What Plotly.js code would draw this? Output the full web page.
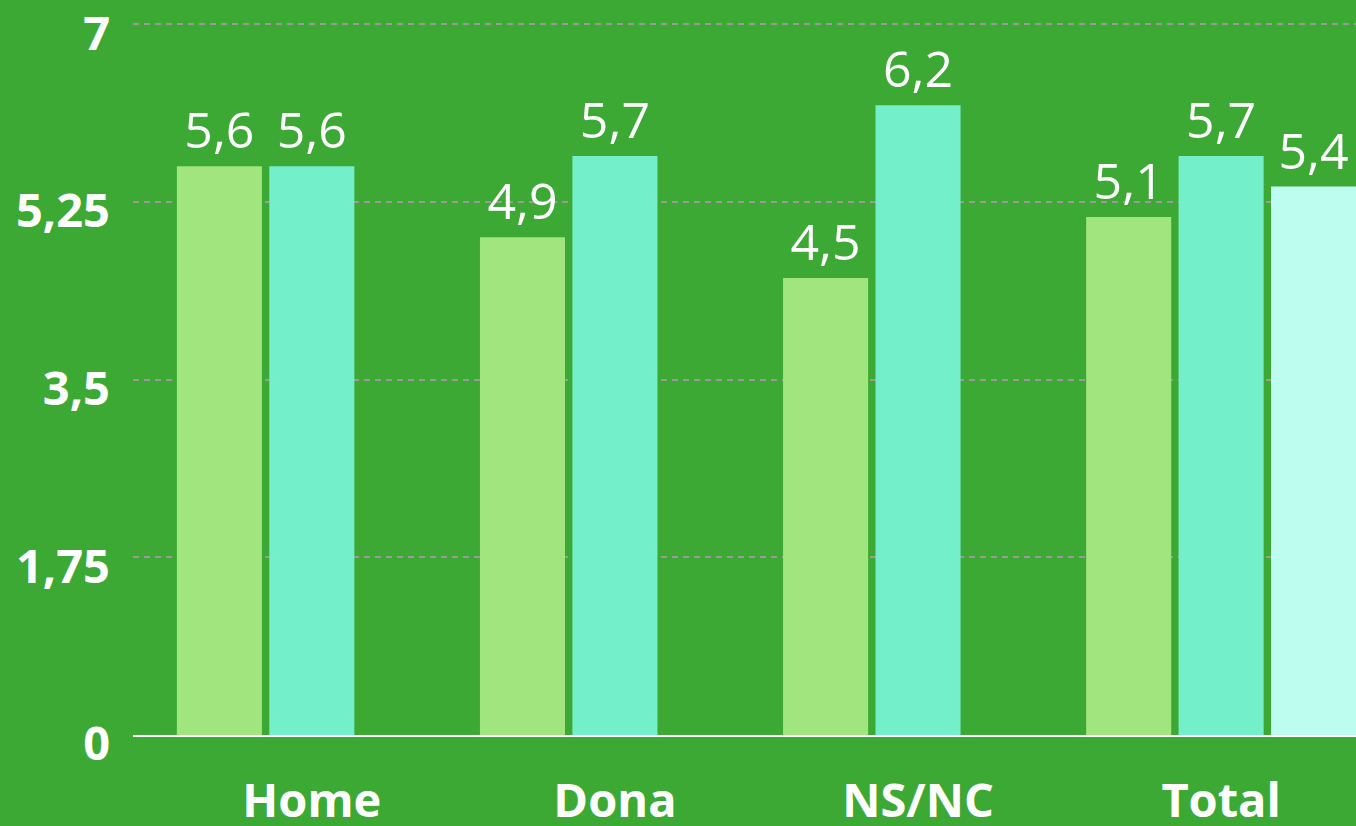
<!DOCTYPE html>
<html>
<head>
<meta charset="utf-8">
<script src="https://cdn.plot.ly/plotly-3.0.1.min.js"></script>
<style>html,body{margin:0;padding:0;background:#3DA935;}#chart{width:1356px;height:826px;}</style>
</head>
<body>
<div id="chart"></div>
<script>
const categories = ['Home', 'Dona', 'NS/NC', 'Total'];
const series1 = [5.6, 4.9, 4.5, 5.1];
const series2 = [5.6, 5.7, 6.2, 5.7];
const series3Categories = ['Total'];
const series3 = [5.4];
const yTicks = [0, 1.75, 3.5, 5.25, 7];

const textFont = {family: 'Open Sans, sans-serif', size: 50, color: '#ffffff', weight: 400};

const traces = [
  {type: 'bar', x: categories, y: series1, marker: {color: '#A1E57F'},
   texttemplate: '%{y:.1f}', textposition: 'outside', textfont: textFont, cliponaxis: false, hoverinfo: 'none'},
  {type: 'bar', x: categories, y: series2, marker: {color: '#73F0CA'},
   texttemplate: '%{y:.1f}', textposition: 'outside', textfont: textFont, cliponaxis: false, hoverinfo: 'none'},
  {type: 'bar', x: series3Categories, y: series3, marker: {color: '#BCFDEF'},
   texttemplate: '%{y:.1f}', textposition: 'outside', textfont: textFont, cliponaxis: false, hoverinfo: 'none'}
];

const layout = {
  width: 1356, height: 826,
  paper_bgcolor: '#3DA935', plot_bgcolor: '#3DA935',
  margin: {l: 133, r: 0, t: 20, b: 91},
  separators: ',.',
  showlegend: false,
  barmode: 'group',
  bargap: 0.085,
  bargroupgap: 0.08,
  xaxis: {
    type: 'category',
    categoryorder: 'array', categoryarray: categories,
    range: [-0.59, 3.445],
    showgrid: false, zeroline: false,
    showline: true, linecolor: '#ffffff', linewidth: 2,
    ticks: '',
    ticklabelstandoff: 24,
    ticklabeloverflow: 'allow',
    tickfont: {family: 'Open Sans, sans-serif', size: 47, color: '#ffffff', weight: 700}
  },
  yaxis: {
    range: [0, 7.04],
    tickmode: 'array', tickvals: yTicks,
    ticktext: yTicks.map(v => String(v).replace('.', ',')),
    showgrid: true, gridcolor: '#9A9A9A', griddash: '6px,5px', gridwidth: 2,
    zeroline: false, showline: false, ticks: '',
    ticklabelstandoff: 22,
    ticklabelshift: 9,
    ticklabeloverflow: 'allow',
    tickfont: {family: 'Open Sans, sans-serif', size: 47, color: '#ffffff', weight: 700}
  }
};

Plotly.newPlot('chart', traces, layout, {displayModeBar: false, staticPlot: true});
</script>
</body>
</html>
